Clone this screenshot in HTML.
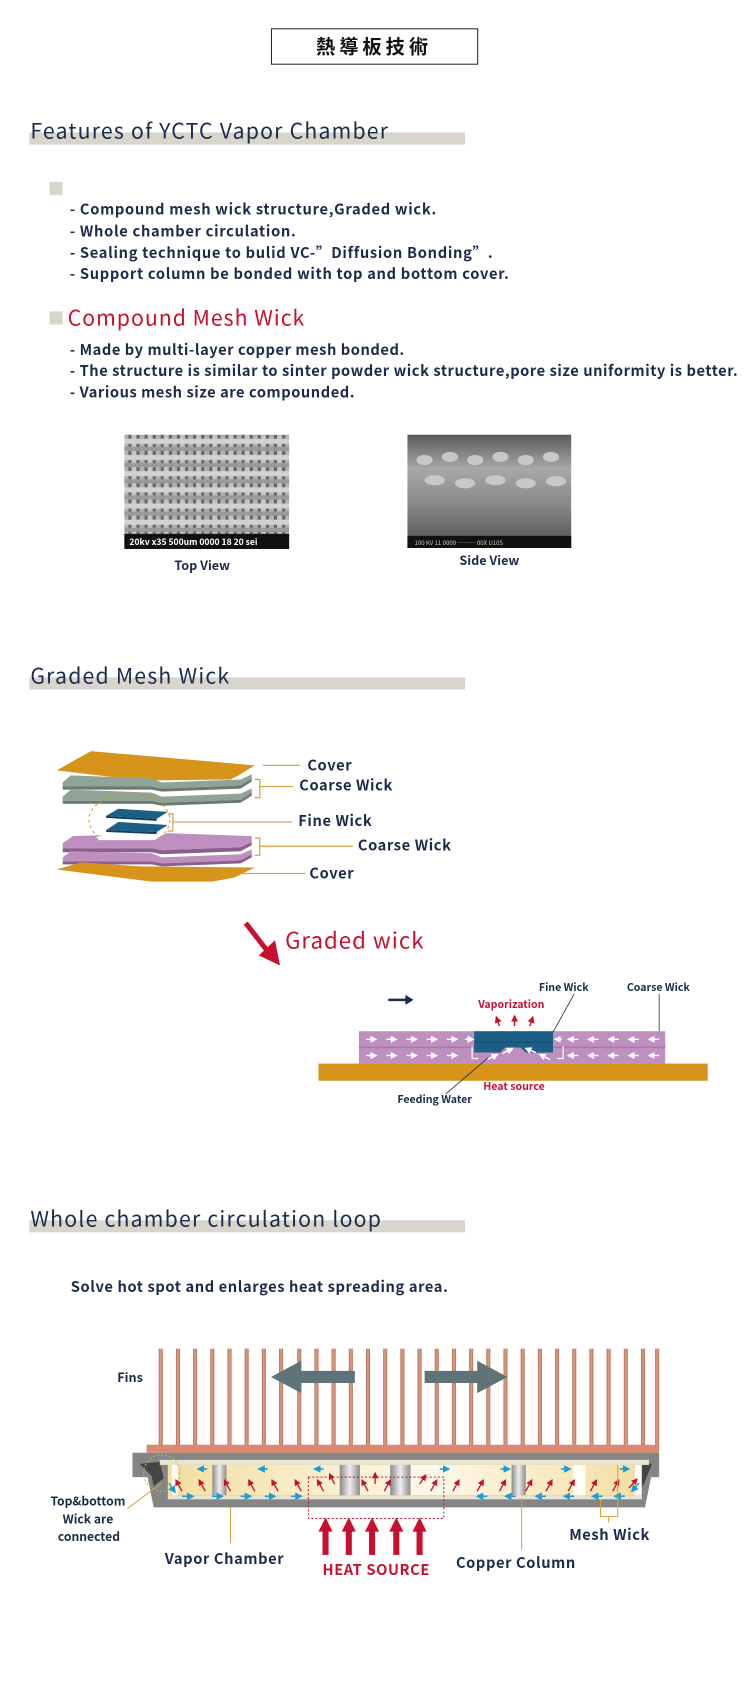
<!DOCTYPE html>
<html><head><meta charset="utf-8"><style>
html,body{margin:0;padding:0;background:#fff;width:751px;height:1703px;overflow:hidden}
svg{display:block}
text{font-family:"Noto Sans CJK TC","Liberation Sans",sans-serif;fill:#1c2b4b}
</style></head><body>
<svg width="751" height="1703" viewBox="0 0 751 1703" xmlns="http://www.w3.org/2000/svg">
<defs>
<pattern id="mesh" width="16" height="16" patternUnits="userSpaceOnUse">
<rect width="16" height="16" fill="#666"/>
<rect x="2" y="0" width="5" height="16" fill="#c4c4c4"/>
<rect x="10" y="0" width="5" height="16" fill="#b0b0b0"/>
<rect x="0" y="2" width="16" height="5" fill="#d2d2d2"/>
<rect x="0" y="10" width="16" height="4" fill="#9a9a9a"/>
</pattern>
<linearGradient id="side" x1="0" y1="0" x2="0" y2="1">
<stop offset="0" stop-color="#5a5a5a"/><stop offset="0.3" stop-color="#a8a8a8"/><stop offset="0.6" stop-color="#8a8a8a"/><stop offset="1" stop-color="#505050"/>
</linearGradient>
<linearGradient id="fin" x1="0" y1="0" x2="1" y2="0">
<stop offset="0" stop-color="#b86a52"/><stop offset="0.5" stop-color="#e0a08a"/><stop offset="1" stop-color="#b86a52"/>
</linearGradient>
<linearGradient id="col" x1="0" y1="0" x2="1" y2="0">
<stop offset="0" stop-color="#8a8a8a"/><stop offset="0.5" stop-color="#eeeeee"/><stop offset="1" stop-color="#8a8a8a"/>
</linearGradient>
<linearGradient id="cream" x1="0" y1="0" x2="1" y2="0">
<stop offset="0" stop-color="#f4dfa0"/><stop offset="0.45" stop-color="#fbf3dc"/><stop offset="0.55" stop-color="#fdf8ea"/><stop offset="1" stop-color="#f4dfa0"/>
</linearGradient>
<marker id="wa" markerWidth="5" markerHeight="5" refX="4" refY="2.5" orient="auto"><path d="M0,0 L5,2.5 L0,5z" fill="#fff"/></marker>
<marker id="ra" markerWidth="5" markerHeight="5" refX="4" refY="2.5" orient="auto"><path d="M0,0 L5,2.5 L0,5z" fill="#c8102e"/></marker>
<marker id="ba" markerWidth="5" markerHeight="5" refX="4" refY="2.5" orient="auto"><path d="M0,0 L5,2.5 L0,5z" fill="#1e9ad6"/></marker>
</defs>
<g transform="scale(1.011)">
<!-- Title -->
<rect x="268.5" y="28.5" width="204" height="35" fill="#fff" stroke="#222" stroke-width="1"/>
<text x="370" y="53" text-anchor="middle" font-size="19" letter-spacing="4" style="fill:#111" font-weight="bold">熱導板技術</text>

<!-- Features heading -->
<rect x="29" y="131" width="431" height="12" fill="#d8d5cc"/>
<text x="30" y="137" font-size="21" letter-spacing="1.2">Features of YCTC Vapor Chamber</text>
<rect x="49" y="180" width="13" height="13" fill="#d8d5cc"/>
<g font-size="14.5" letter-spacing="0.7" font-weight="bold">
<text x="69" y="212">- Compound mesh wick structure,Graded wick.</text>
<text x="69" y="234">- Whole chamber circulation.</text>
<text x="69" y="255">- Sealing technique to bulid VC-”Diffusion Bonding”.</text>
<text x="69" y="276">- Support column be bonded with top and bottom cover.</text>
</g>
<rect x="49" y="308" width="13" height="13" fill="#d8d5cc"/>
<text x="67" y="322" font-size="21" letter-spacing="1" style="fill:#c8102e">Compound Mesh Wick</text>
<g font-size="14.5" letter-spacing="0.55" font-weight="bold">
<text x="69" y="351">- Made by multi-layer copper mesh bonded.</text>
<text x="69" y="372">- The structure is similar to sinter powder wick structure,pore size uniformity is better.</text>
<text x="69" y="393">- Various mesh size are compounded.</text>
</g>

<!-- SEM images -->
<rect x="123" y="430" width="163" height="113" fill="url(#mesh)"/>
<rect x="123" y="528" width="163" height="15" fill="#111"/>
<text x="128" y="539" font-size="8.5" style="fill:#fff" font-weight="bold">20kv  x35  500um 0000 18 20 sei</text>
<rect x="403" y="430" width="162" height="112" fill="url(#side)"/>
<g fill="#c8c8c8">
<ellipse cx="420" cy="455" rx="8" ry="5"/><ellipse cx="445" cy="452" rx="8" ry="5"/><ellipse cx="470" cy="455" rx="8" ry="5"/><ellipse cx="495" cy="452" rx="8" ry="5"/><ellipse cx="520" cy="455" rx="8" ry="5"/><ellipse cx="545" cy="452" rx="8" ry="5"/>
<ellipse cx="430" cy="475" rx="10" ry="5"/><ellipse cx="460" cy="478" rx="10" ry="5"/><ellipse cx="490" cy="475" rx="10" ry="5"/><ellipse cx="520" cy="478" rx="10" ry="5"/><ellipse cx="550" cy="476" rx="10" ry="5"/>
</g>
<rect x="403" y="530" width="162" height="12" fill="#111"/>
<text x="410" y="539" font-size="6" style="fill:#ccc">100 KV  11  0000 ───  00X        U105</text>
<text x="200" y="564" text-anchor="middle" font-size="12.5" font-weight="bold">Top View</text>
<text x="484" y="559" text-anchor="middle" font-size="12.5" font-weight="bold">Side View</text>

<!-- Graded Mesh Wick heading -->
<rect x="29" y="670" width="431" height="12" fill="#d8d5cc"/>
<text x="30" y="676" font-size="21" letter-spacing="1.2">Graded Mesh Wick</text>

<!-- Layers -->
<polygon points="56,762 90,743 252,757 236,767 228,771 140,772" fill="#d6951a"/>
<g>
<polygon points="62,774 70,767 150,770 160,774 238,771 249,766 249,770 238,777 160,780 150,778 62,778" fill="#8fa396"/>
<polygon points="62,778 150,778 160,780 238,777 249,770 249,773 238,780 160,783 150,781 62,781" fill="#6b7a70"/>
<polygon points="62,788 70,781 150,784 160,788 238,785 249,780 249,784 238,791 160,794 150,792 62,792" fill="#8fa396"/>
<polygon points="62,792 150,792 160,794 238,791 249,784 249,787 238,794 160,797 150,795 62,795" fill="#6b7a70"/>
</g>
<ellipse cx="128" cy="811" rx="40" ry="26" fill="none" stroke="#d6951a" stroke-width="1" stroke-dasharray="3,3"/>
<polygon points="105,807 117,800 166,803 155,810" fill="#1b5e86"/>
<polygon points="105,807 155,810 155,812 105,809" fill="#123f5c"/>
<polygon points="105,821 117,813 166,816 155,823" fill="#1b5e86"/>
<polygon points="105,821 155,823 155,825 105,823" fill="#123f5c"/>
<polygon points="62,834 72,827 105,826 100,829 155,829 165,824 249,827 249,833 238,838 160,841 150,839 62,839" fill="#bf8fc0"/>
<polygon points="95,828 105,825 160,826 153,831 98,831" fill="#fff"/>
<polygon points="62,839 150,839 160,841 238,838 249,833 249,836 238,842 160,845 150,843 62,843" fill="#8a5f8f"/>
<polygon points="62,848 70,842 150,844 160,848 238,845 249,840 249,845 238,851 160,854 150,852 62,852" fill="#bf8fc0"/>
<polygon points="62,852 150,852 160,854 238,851 249,845 249,848 238,854 160,857 150,855 62,855" fill="#8a5f8f"/>
<polygon points="56,860 80,853 140,857 252,858 232,868 210,872 150,872" fill="#d6951a"/>
<g stroke="#d6a040" stroke-width="1.2" fill="none">
<line x1="260" y1="757" x2="297" y2="757"/>
<polyline points="252,771 257,771 257,789 252,789"/><line x1="257" y1="778" x2="290" y2="778"/>
<polyline points="166,805 171,805 171,822 166,822"/><line x1="171" y1="813" x2="289" y2="813"/>
<polyline points="252,829 257,829 257,846 252,846"/><line x1="257" y1="837" x2="349" y2="837"/>
<line x1="240" y1="864" x2="302" y2="864"/>
</g>
<g font-size="14.5" letter-spacing="0.6" font-weight="bold">
<text x="304" y="762">Cover</text>
<text x="296" y="782">Coarse Wick</text>
<text x="295" y="817">Fine Wick</text>
<text x="354" y="841">Coarse Wick</text>
<text x="306" y="869">Cover</text>
</g>

<!-- red arrow + Graded wick -->
<line x1="243" y1="913" x2="264" y2="940" stroke="#c8102e" stroke-width="5"/>
<polygon points="256,945 272,930 277,955" fill="#c8102e"/>
<text x="282" y="938" font-size="22" letter-spacing="1" style="fill:#c8102e">Graded wick</text>

<!-- bottom graded diagram -->
<line x1="384" y1="989" x2="402" y2="989" stroke="#1c2b4b" stroke-width="2.5"/>
<polygon points="401,984 409,989 401,994" fill="#1c2b4b"/>
<rect x="355" y="1020" width="303" height="32" fill="#bf8fc0"/>
<line x1="355" y1="1036" x2="658" y2="1036" stroke="#a57aa8" stroke-width="1.5"/>
<rect x="315" y="1052" width="385" height="17" fill="#d6951a"/>
<polygon points="469,1020 547,1020 547,1041 520,1041 515,1036 500,1036 495,1041 469,1041" fill="#1b5e86"/>
<line x1="469" y1="1031" x2="547" y2="1031" stroke="#164d6e" stroke-width="1"/>
<g stroke="#fff" stroke-width="1.4" marker-end="url(#wa)">
<line x1="362" y1="1028" x2="372" y2="1028"/><line x1="382" y1="1028" x2="392" y2="1028"/><line x1="402" y1="1028" x2="412" y2="1028"/><line x1="422" y1="1028" x2="432" y2="1028"/><line x1="442" y1="1028" x2="452" y2="1028"/><line x1="460" y1="1028" x2="468" y2="1028"/>
<line x1="362" y1="1044" x2="372" y2="1044"/><line x1="382" y1="1044" x2="392" y2="1044"/><line x1="402" y1="1044" x2="412" y2="1044"/><line x1="422" y1="1044" x2="432" y2="1044"/><line x1="442" y1="1044" x2="452" y2="1044"/>
<line x1="652" y1="1028" x2="642" y2="1028"/><line x1="632" y1="1028" x2="622" y2="1028"/><line x1="612" y1="1028" x2="602" y2="1028"/><line x1="592" y1="1028" x2="582" y2="1028"/><line x1="572" y1="1028" x2="562" y2="1028"/><line x1="556" y1="1028" x2="549" y2="1028"/>
<line x1="652" y1="1044" x2="642" y2="1044"/><line x1="632" y1="1044" x2="622" y2="1044"/><line x1="612" y1="1044" x2="602" y2="1044"/><line x1="592" y1="1044" x2="582" y2="1044"/><line x1="572" y1="1044" x2="562" y2="1044"/>
<line x1="482" y1="1048" x2="492" y2="1043"/><line x1="497" y1="1042" x2="507" y2="1037"/>
<line x1="544" y1="1048" x2="534" y2="1043"/><line x1="530" y1="1041" x2="520" y2="1037"/>
</g>
<polyline points="467,1035 467,1047 473,1047" fill="none" stroke="#fff" stroke-width="1.2"/>
<polyline points="557,1035 557,1047 551,1047" fill="none" stroke="#fff" stroke-width="1.2"/>
<g stroke="#c8102e" stroke-width="1.4" marker-end="url(#ra)">
<line x1="494" y1="1015" x2="491" y2="1006"/><line x1="509" y1="1015" x2="509" y2="1005"/><line x1="524" y1="1015" x2="527" y2="1006"/>
</g>
<line x1="547" y1="1021" x2="568" y2="983" stroke="#1c2b4b" stroke-width="0.8"/>
<line x1="652" y1="1020" x2="652" y2="983" stroke="#556" stroke-width="1"/>
<line x1="483" y1="1046" x2="441" y2="1082" stroke="#1c2b4b" stroke-width="0.8"/>
<g font-size="10.5" font-weight="bold">
<text x="533" y="980">Fine Wick</text>
<text x="620" y="980">Coarse Wick</text>
<text x="473" y="997" style="fill:#c8102e">Vaporization</text>
<text x="478" y="1078" style="fill:#c8102e">Heat source</text>
<text x="393" y="1091">Feeding Water</text>
</g>

<!-- Whole chamber heading -->
<rect x="29" y="1207" width="431" height="12" fill="#d8d5cc"/>
<text x="30" y="1213" font-size="21" letter-spacing="1.2">Whole chamber circulation loop</text>
<text x="70" y="1278" font-size="14.5" letter-spacing="0.6" font-weight="bold">Solve hot spot and enlarges heat spreading area.</text>

<!-- Fins -->
<g fill="url(#fin)">
<rect x="157" y="1334" width="4" height="96"/><rect x="174" y="1334" width="4" height="96"/><rect x="191" y="1334" width="4" height="96"/><rect x="208" y="1334" width="4" height="96"/><rect x="225" y="1334" width="4" height="96"/><rect x="242" y="1334" width="4" height="96"/><rect x="259" y="1334" width="4" height="96"/><rect x="276" y="1334" width="4" height="96"/><rect x="294" y="1334" width="4" height="96"/><rect x="311" y="1334" width="4" height="96"/><rect x="328" y="1334" width="4" height="96"/><rect x="345" y="1334" width="4" height="96"/><rect x="362" y="1334" width="4" height="96"/><rect x="379" y="1334" width="4" height="96"/><rect x="396" y="1334" width="4" height="96"/><rect x="413" y="1334" width="4" height="96"/><rect x="430" y="1334" width="4" height="96"/><rect x="447" y="1334" width="4" height="96"/><rect x="464" y="1334" width="4" height="96"/><rect x="481" y="1334" width="4" height="96"/><rect x="498" y="1334" width="4" height="96"/><rect x="515" y="1334" width="4" height="96"/><rect x="532" y="1334" width="4" height="96"/><rect x="549" y="1334" width="4" height="96"/><rect x="566" y="1334" width="4" height="96"/><rect x="583" y="1334" width="4" height="96"/><rect x="600" y="1334" width="4" height="96"/><rect x="617" y="1334" width="4" height="96"/><rect x="634" y="1334" width="4" height="96"/><rect x="648" y="1334" width="4" height="96"/>
</g>
<polygon points="268,1362 298,1346 298,1356 351,1356 351,1368 298,1368 298,1378" fill="#5e7479"/>
<polygon points="502,1362 472,1346 472,1356 420,1356 420,1368 472,1368 472,1378" fill="#5e7479"/>
<text x="116" y="1367" font-size="12.5" font-weight="bold">Fins</text>

<!-- Chamber -->
<rect x="145" y="1429" width="507" height="8" fill="#d98a70"/>
<polygon points="131,1437 652,1437 652,1461 644,1461 638,1491 152,1491 146,1461 131,1461" fill="#858585"/>
<polygon points="138,1448 158,1446 162,1462 152,1470 150,1460" fill="#444"/>
<polygon points="645,1448 628,1446 626,1462 636,1470 640,1460" fill="#444"/>
<rect x="158" y="1444" width="484" height="5" fill="#e9e4cf"/>
<rect x="166" y="1449" width="469" height="30" fill="url(#cream)"/>
<rect x="166" y="1479" width="469" height="4" fill="#e9e4cf"/>
<g fill="url(#col)">
<rect x="210" y="1449" width="14" height="30"/><rect x="336" y="1449" width="20" height="30"/><rect x="386" y="1449" width="20" height="30"/><rect x="506" y="1449" width="14" height="30"/>
</g>
<rect x="567" y="1449" width="12" height="30" fill="#fffdf5"/>
<rect x="170" y="1449" width="6" height="30" fill="#fffdf5"/>
<rect x="628" y="1449" width="6" height="30" fill="#fffdf5"/>
<circle cx="160" cy="1457" r="18" fill="none" stroke="#a8c060" stroke-dasharray="2,2"/>
<g stroke="#1e9ad6" stroke-width="1.5" marker-end="url(#ba)">
<line x1="205" y1="1453" x2="196" y2="1453"/><line x1="265" y1="1453" x2="256" y2="1453"/><line x1="320" y1="1453" x2="311" y2="1453"/>
<line x1="435" y1="1453" x2="444" y2="1453"/><line x1="495" y1="1453" x2="504" y2="1453"/><line x1="555" y1="1453" x2="564" y2="1453"/><line x1="613" y1="1453" x2="622" y2="1453"/>
<line x1="180" y1="1480" x2="191" y2="1480"/><line x1="210" y1="1480" x2="220" y2="1480"/><line x1="238" y1="1480" x2="248" y2="1480"/><line x1="262" y1="1480" x2="272" y2="1480"/><line x1="288" y1="1480" x2="298" y2="1480"/>
<line x1="482" y1="1480" x2="472" y2="1480"/><line x1="510" y1="1480" x2="500" y2="1480"/><line x1="540" y1="1480" x2="530" y2="1480"/><line x1="568" y1="1480" x2="558" y2="1480"/><line x1="596" y1="1480" x2="586" y2="1480"/><line x1="618" y1="1480" x2="608" y2="1480"/>
<line x1="167" y1="1467" x2="173" y2="1476"/><line x1="632" y1="1467" x2="625" y2="1475"/>
</g>
<g stroke="#c8102e" stroke-width="1.3" marker-end="url(#ra)">
<line x1="180" y1="1475" x2="174" y2="1464"/><line x1="203" y1="1475" x2="197" y2="1464"/><line x1="228" y1="1475" x2="222" y2="1464"/><line x1="252" y1="1475" x2="246" y2="1464"/><line x1="275" y1="1475" x2="269" y2="1464"/><line x1="298" y1="1475" x2="292" y2="1464"/><line x1="320" y1="1475" x2="314" y2="1464"/><line x1="331" y1="1468" x2="326" y2="1458"/><line x1="364" y1="1475" x2="358" y2="1464"/><line x1="371" y1="1468" x2="371" y2="1457"/><line x1="380" y1="1475" x2="386" y2="1464"/><line x1="415" y1="1468" x2="421" y2="1459"/><line x1="426" y1="1475" x2="432" y2="1464"/><line x1="448" y1="1475" x2="454" y2="1464"/><line x1="472" y1="1475" x2="478" y2="1464"/><line x1="494" y1="1475" x2="500" y2="1464"/><line x1="520" y1="1475" x2="526" y2="1464"/><line x1="540" y1="1475" x2="546" y2="1464"/><line x1="562" y1="1475" x2="568" y2="1464"/><line x1="584" y1="1475" x2="590" y2="1464"/><line x1="606" y1="1475" x2="612" y2="1464"/><line x1="622" y1="1472" x2="630" y2="1463"/>
</g>
<rect x="305" y="1461" width="134" height="41" fill="none" stroke="#c8102e" stroke-width="1" stroke-dasharray="2,2"/>
<g fill="#c8102e">
<rect x="319" y="1513" width="6" height="25"/><polygon points="315,1515 322,1501 329,1515"/>
<rect x="342" y="1513" width="6" height="25"/><polygon points="338,1515 345,1501 352,1515"/>
<rect x="365" y="1513" width="6" height="25"/><polygon points="361,1515 368,1501 375,1515"/>
<rect x="389" y="1513" width="6" height="25"/><polygon points="385,1515 392,1501 399,1515"/>
<rect x="412" y="1513" width="6" height="25"/><polygon points="408,1515 415,1501 422,1515"/>
</g>
<g stroke="#d6a040" stroke-width="1" fill="none">
<line x1="160" y1="1467" x2="126" y2="1492"/>
<line x1="228" y1="1491" x2="228" y2="1526"/>
<line x1="516" y1="1482" x2="516" y2="1533"/>
<polyline points="594,1483 594,1500 611,1500 611,1449"/><line x1="602" y1="1500" x2="602" y2="1506"/>
</g>
<g font-size="12" font-weight="bold" text-anchor="middle">
<text x="87" y="1489">Top&amp;bottom</text>
<text x="87" y="1507">Wick are</text>
<text x="88" y="1524">connected</text>
</g>
<g font-size="14.5" letter-spacing="0.6" font-weight="bold">
<text x="163" y="1547">Vapor Chamber</text>
<text x="319" y="1558" style="fill:#c8102e">HEAT SOURCE</text>
<text x="451" y="1551">Copper Column</text>
<text x="563" y="1523">Mesh Wick</text>
</g>
</g>
</svg>
</body></html>
